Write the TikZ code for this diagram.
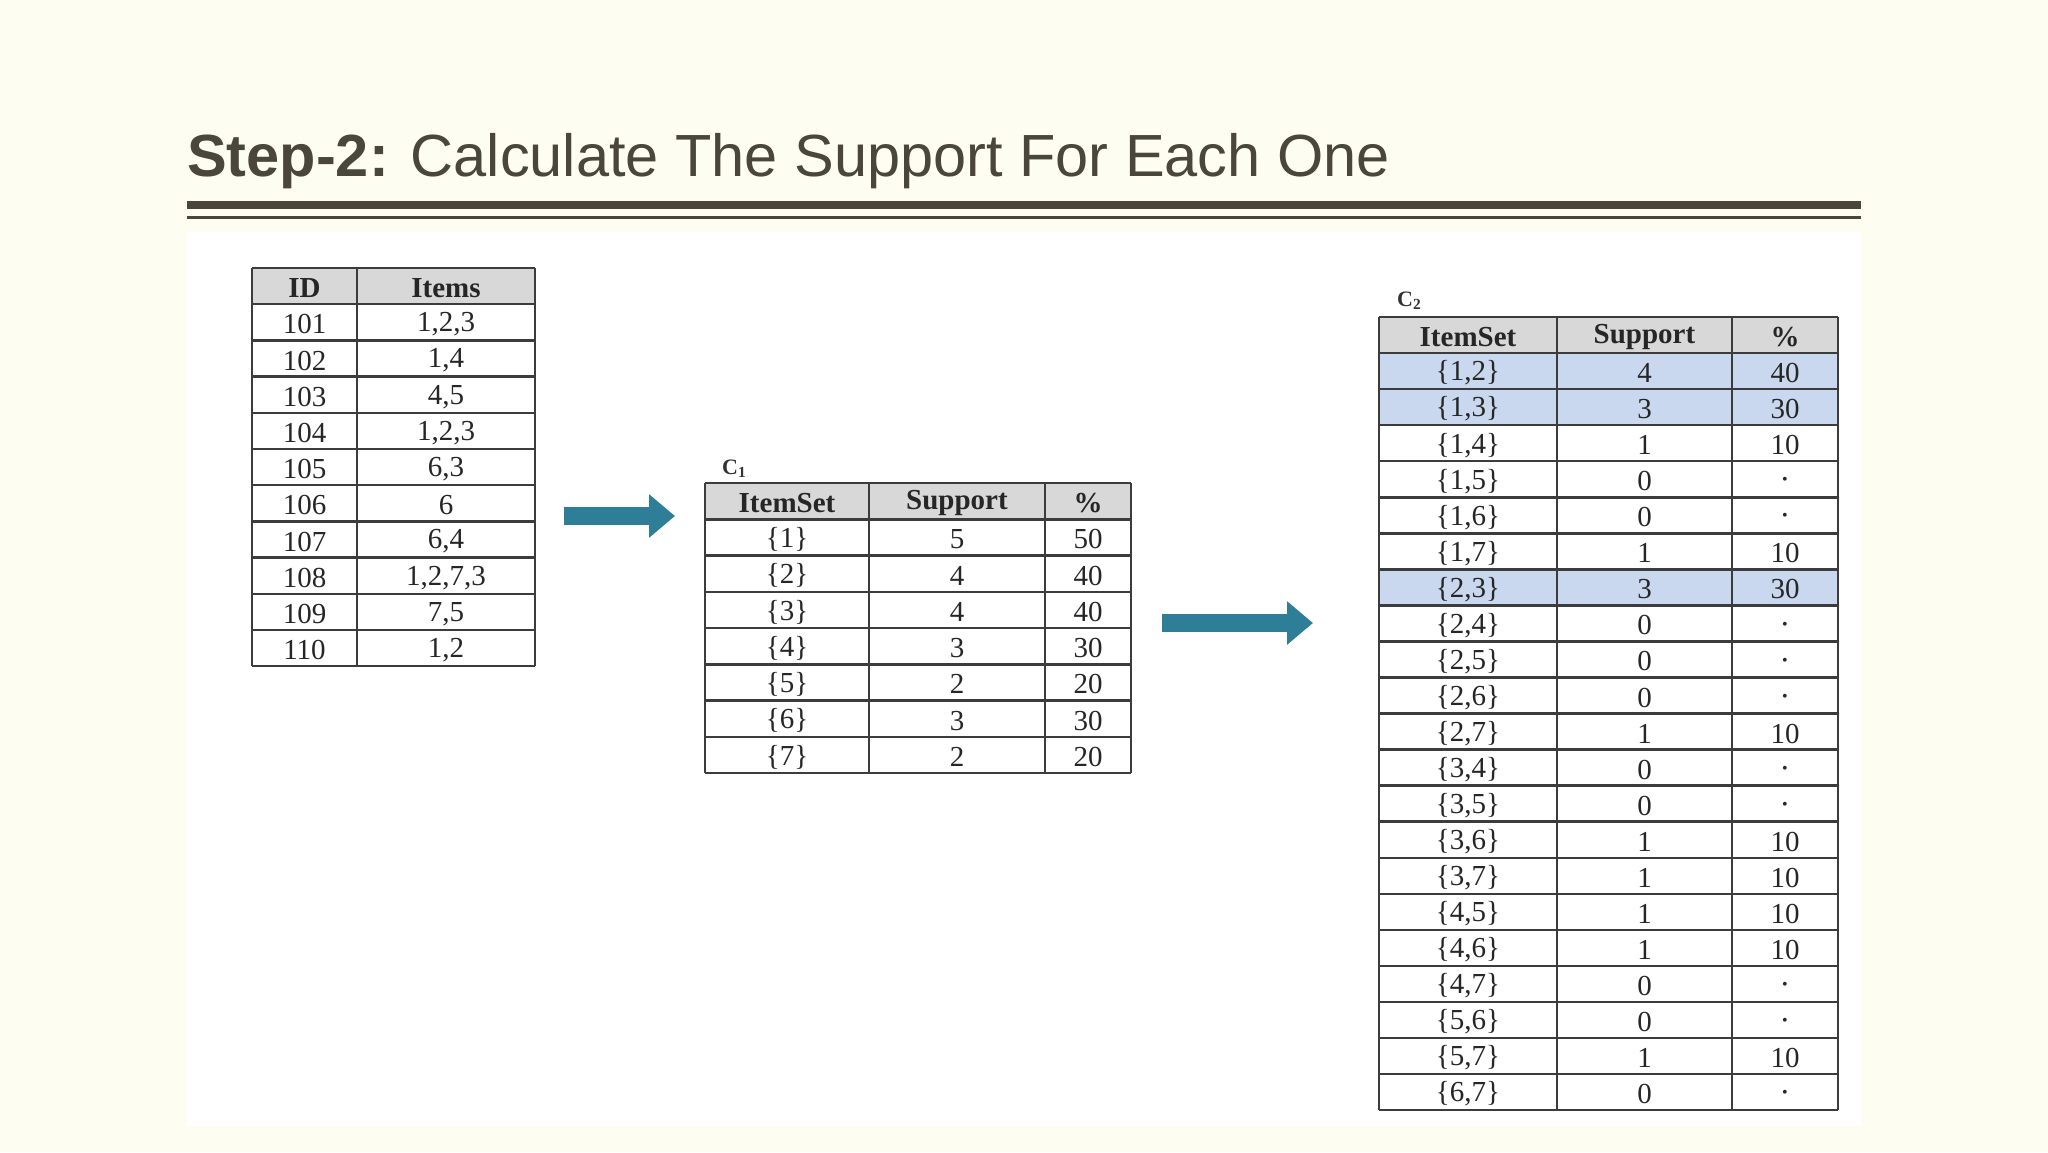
\documentclass[tikz,border=0pt]{standalone}
\usepackage{fontspec}
\setmainfont{Liberation Serif}
\newfontfamily\titlefont{Liberation Sans}
\usetikzlibrary{arrows.meta}
\definecolor{bgcream}{HTML}{FDFDF2}
\definecolor{titlecol}{HTML}{4A463C}
\definecolor{gridcol}{HTML}{3C3C3C}
\definecolor{headfill}{HTML}{D8D8D8}
\definecolor{hlfill}{HTML}{C9D8EE}
\definecolor{arrowcol}{HTML}{2F7E97}
\tikzset{
  cell/.style={inner sep=0pt, yshift=-2pt, font=\fontsize{29}{29}\selectfont, text=black!85},
  headcell/.style={cell, font=\fontsize{29}{29}\selectfont\bfseries},
  gridline/.style={draw=gridcol, line width=2.5pt},
  blockarrow/.style={draw=arrowcol, line width=18pt, -{Triangle[length=26pt,width=42pt]}},
  tablabel/.style={inner sep=0pt, font=\fontsize{22}{22}\selectfont\bfseries, text=black!80}
}
\begin{document}
\begin{tikzpicture}[x=1pt,y=-1pt]
\useasboundingbox (0,0) rectangle (2048,1152);
\fill[bgcream] (0,0) rectangle (2048,1152);
\fill[white] (187,232) rectangle (1861,1126);
% title
\node[anchor=base west, inner sep=0pt, text=titlecol, font=\titlefont\fontsize{59.5}{59.5}\selectfont] (title) at (187,176) {\textbf{Step-2:} Calculate The Support For Each One};
\fill[titlecol] (187,201) rectangle (1861,209);
\fill[titlecol] (187,216) rectangle (1861,218.5);

% ---- Table 1 ----
\def\rh{36.2}
\fill[headfill] (252,268) rectangle (535,304.2);
\node[headcell] (t1h1) at (304.5,286.1) {ID};
\node[headcell] (t1h2) at (446,286.1) {Items};
\foreach \id/\it [count=\i] in {101/{1,2,3},102/{1,4},103/{4,5},104/{1,2,3},105/{6,3},106/{6},107/{6,4},108/{1,2,7,3},109/{7,5},110/{1,2}}{
  \node[cell] (t1a\i) at (304.5,{268+(\i+0.5)*\rh}) {\id};
  \node[cell] (t1b\i) at (446,{268+(\i+0.5)*\rh}) {\it};
}
\foreach \i in {0,...,11}{ \draw[gridline] (252,{268+\i*\rh}) -- (535,{268+\i*\rh}); }
\foreach \x in {252,357,535}{ \draw[gridline] (\x,268) -- (\x,666); }

% ---- Table C1 ----
\def\rhc{36.25}
\node[tablabel, anchor=base west] (c1lab) at (722,474) {C\textsubscript{1}};
\fill[headfill] (705,483) rectangle (1131,519.25);
\node[headcell] (c1h1) at (787,501.1) {ItemSet};
\node[headcell] (c1h2) at (957,501.1) {Support};
\node[headcell] (c1h3) at (1088,501.1) {\%};
\foreach \a/\b/\c [count=\i] in {1/5/50,2/4/40,3/4/40,4/3/30,5/2/20,6/3/30,7/2/20}{
  \node[cell] (c1a\i) at (787,{483+(\i+0.5)*\rhc}) {\{\a\}};
  \node[cell] (c1b\i) at (957,{483+(\i+0.5)*\rhc}) {\b};
  \node[cell] (c1c\i) at (1088,{483+(\i+0.5)*\rhc}) {\c};
}
\foreach \i in {0,...,8}{ \draw[gridline] (705,{483+\i*\rhc}) -- (1131,{483+\i*\rhc}); }
\foreach \x in {705,869,1045,1131}{ \draw[gridline] (\x,483) -- (\x,773); }

% ---- Table C2 ----
\def\rhd{36.05}
\node[tablabel, anchor=base west] (c2lab) at (1397,306) {C\textsubscript{2}};
\fill[headfill] (1379,317) rectangle (1838,353.05);
\foreach \i in {1,2,7}{ \fill[hlfill] (1379,{317+\i*\rhd}) rectangle (1838,{317+(\i+1)*\rhd}); }
\node[headcell] (c2h1) at (1468,335) {ItemSet};
\node[headcell] (c2h2) at (1644.5,335) {Support};
\node[headcell] (c2h3) at (1785,335) {\%};
\foreach \a/\b/\c [count=\i] in {{1,2}/4/40,{1,3}/3/30,{1,4}/1/10,{1,5}/0/-,{1,6}/0/-,{1,7}/1/10,{2,3}/3/30,{2,4}/0/-,{2,5}/0/-,{2,6}/0/-,{2,7}/1/10,{3,4}/0/-,{3,5}/0/-,{3,6}/1/10,{3,7}/1/10,{4,5}/1/10,{4,6}/1/10,{4,7}/0/-,{5,6}/0/-,{5,7}/1/10,{6,7}/0/-}{
  \node[cell] (c2a\i) at (1468,{317+(\i+0.5)*\rhd}) {\{\a\}};
  \node[cell] (c2b\i) at (1644.5,{317+(\i+0.5)*\rhd}) {\b};
  \if\c-
    \node[cell, font=\fontsize{16}{16}\selectfont] (c2c\i) at (1785,{317+(\i+0.5)*\rhd}) {\textbullet};
  \else
    \node[cell] (c2c\i) at (1785,{317+(\i+0.5)*\rhd}) {\c};
  \fi
}
\foreach \i in {0,...,22}{ \draw[gridline] (1379,{317+\i*\rhd}) -- (1838,{317+\i*\rhd}); }
\foreach \x in {1379,1557,1732,1838}{ \draw[gridline] (\x,317) -- (\x,1110); }

% ---- arrows ----
\coordinate (a1s) at (564,516);
\coordinate (a1e) at (675,516);
\coordinate (a2s) at (1162,623);
\coordinate (a2e) at (1313,623);
\draw[blockarrow] (a1s) -- (a1e);
\draw[blockarrow] (a2s) -- (a2e);
\end{tikzpicture}
\end{document}
